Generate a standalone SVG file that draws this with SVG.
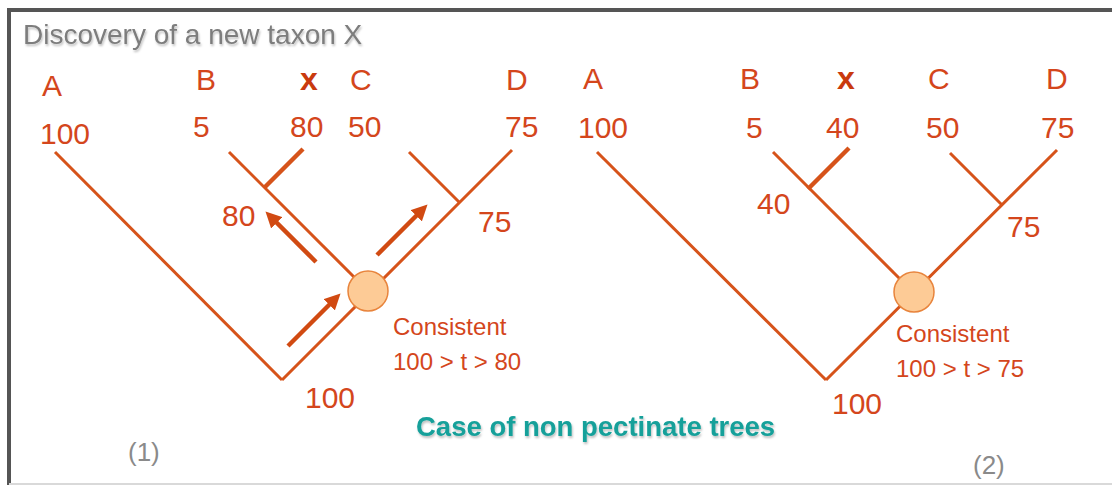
<svg xmlns="http://www.w3.org/2000/svg" width="1112" height="485" viewBox="0 0 1112 485">
  <defs>
    <style>
      .br { stroke: #D6531A; stroke-width: 3; fill: none; stroke-linecap: butt; }
      .bx { stroke: #D6531A; stroke-width: 4.5; fill: none; }
      .ar { stroke: #D14A12; stroke-width: 4.5; fill: none; marker-end: url(#ah); }
      .lb { font-family: "Liberation Sans", Arial, sans-serif; font-size: 30px; fill: #D4461C; }
      .lbx { font-family: "Liberation Sans", Arial, sans-serif; font-size: 32px; font-weight: bold; fill: #C93A0E; }
      .cs { font-family: "Liberation Sans", Arial, sans-serif; font-size: 24px; fill: #D4461C; }
      .num { font-family: "Liberation Sans", Arial, sans-serif; font-size: 26px; fill: #8a8a8a; }
      .node { fill: #FDCB96; stroke: #E8843C; stroke-width: 1.5; }
    </style>
    <marker id="ah" viewBox="0 0 10 10" refX="6" refY="5" markerWidth="16" markerHeight="16" markerUnits="userSpaceOnUse" orient="auto">
      <path d="M0,0 L10,5 L0,10 z" fill="#D14A12"/>
    </marker>
    <filter id="sh" x="-5%" y="-30%" width="110%" height="160%">
      <feDropShadow dx="1" dy="2" stdDeviation="1.2" flood-color="#000" flood-opacity="0.25"/>
    </filter>
  </defs>

  <rect x="0" y="0" width="1112" height="485" fill="#fff"/>
  <path d="M9,485 L9,10 L1112,10" fill="none" stroke="#555" stroke-width="4"/>
  <line x1="9" y1="484" x2="1112" y2="484" stroke="#d9d9d9" stroke-width="2"/>

  <text x="23" y="44" font-family="Liberation Sans, Arial, sans-serif" font-size="28" fill="#7d7d7d" filter="url(#sh)">Discovery of a new taxon X</text>

  <g id="connectors">
    <!-- tree 1 -->
    <line class="br" x1="55" y1="152" x2="282" y2="380"/>
    <line class="br" x1="282" y1="380" x2="512" y2="150"/>
    <line class="br" x1="229" y1="152" x2="369" y2="292"/>
    <line class="bx" x1="264" y1="188" x2="303" y2="149"/>
    <line class="br" x1="409" y1="152" x2="460" y2="203"/>
    <line class="ar" x1="316" y1="262" x2="270" y2="216"/>
    <line class="ar" x1="377" y1="255" x2="423" y2="209"/>
    <line class="ar" x1="288" y1="346" x2="336" y2="298"/>
    <!-- tree 2 -->
    <line class="br" x1="597" y1="152" x2="826" y2="380"/>
    <line class="br" x1="826" y1="380" x2="1057" y2="150"/>
    <line class="br" x1="773" y1="152" x2="914" y2="293"/>
    <line class="bx" x1="808" y1="189" x2="849" y2="148"/>
    <line class="br" x1="950" y1="153" x2="1002" y2="205"/>
  </g>

  <g id="tree1-labels">
    <text class="lb" x="42" y="96">A</text>
    <text class="lb" x="40" y="144">100</text>
    <text class="lb" x="196" y="90">B</text>
    <text class="lbx" x="300" y="90">x</text>
    <text class="lb" x="350" y="90">C</text>
    <text class="lb" x="506" y="90">D</text>
    <text class="lb" x="193" y="137">5</text>
    <text class="lb" x="290" y="137">80</text>
    <text class="lb" x="348" y="137">50</text>
    <text class="lb" x="505" y="137">75</text>
    <text class="lb" x="222" y="226">80</text>
    <text class="lb" x="478" y="232">75</text>
    <text class="lb" x="305" y="408">100</text>
  </g>
  <g id="node1">
    <circle class="node" cx="368" cy="291" r="20"/>
    <text class="cs" x="393" y="335">Consistent</text>
    <text class="cs" x="393" y="370">100 &gt; t &gt; 80</text>
  </g>
  <text class="num" x="128" y="461">(1)</text>

  <g id="tree2-labels">
    <text class="lb" x="583" y="89">A</text>
    <text class="lb" x="740" y="89">B</text>
    <text class="lbx" x="837" y="89">x</text>
    <text class="lb" x="928" y="89">C</text>
    <text class="lb" x="1046" y="89">D</text>
    <text class="lb" x="578" y="138">100</text>
    <text class="lb" x="746" y="138">5</text>
    <text class="lb" x="826" y="138">40</text>
    <text class="lb" x="926" y="138">50</text>
    <text class="lb" x="1041" y="138">75</text>
    <text class="lb" x="757" y="214">40</text>
    <text class="lb" x="1007" y="237">75</text>
    <text class="lb" x="832" y="414">100</text>
  </g>
  <g id="node2">
    <circle class="node" cx="914" cy="292" r="20"/>
    <text class="cs" x="896" y="342">Consistent</text>
    <text class="cs" x="896" y="377">100 &gt; t &gt; 75</text>
  </g>
  <text class="num" x="973" y="474">(2)</text>

  <text x="416" y="436" font-family="Liberation Sans, Arial, sans-serif" font-size="27.5" font-weight="bold" fill="#16A09A" filter="url(#sh)">Case of non pectinate trees</text>
</svg>
